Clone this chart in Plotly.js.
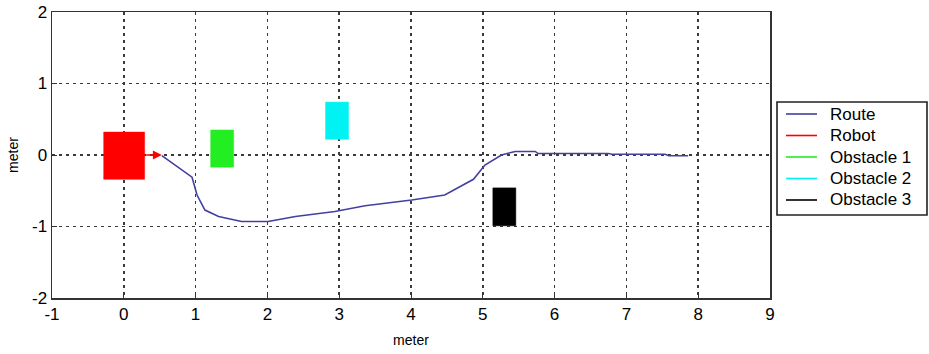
<!DOCTYPE html>
<html>
<head>
<meta charset="utf-8">
<script src="https://cdn.plot.ly/plotly-3.0.1.min.js"></script>
<style>
  html, body { margin: 0; padding: 0; background: #fff; }
  #chart { width: 929px; height: 354px; }
</style>
</head>
<body>
<div id="chart"></div>
<script>
// Planned route of the robot (meters)
const routeX = [0.53, 0.95, 1.02, 1.13, 1.32, 1.64, 2.01, 2.2, 2.39, 2.94, 3.36, 4.01, 4.47, 4.87, 5.03, 5.26, 5.45, 5.73, 5.77, 6.75, 6.8, 7.54, 7.59, 7.86];
const routeY = [-0.01, -0.31, -0.56, -0.77, -0.86, -0.93, -0.93, -0.89, -0.86, -0.79, -0.71, -0.63, -0.56, -0.34, -0.14, 0.0, 0.05, 0.05, 0.02, 0.02, 0.01, 0.01, -0.01, -0.01];

// Robot footprint and heading
const robotX = [-0.28, 0.29];
const robotY = [-0.34, 0.32];
const headingX = [0.29, 0.53];
const headingY = [0, 0];

// Obstacle extents [min, max]
const obstacle1X = [1.21, 1.53];
const obstacle1Y = [-0.17, 0.35];
const obstacle2X = [2.81, 3.13];
const obstacle2Y = [0.22, 0.74];
const obstacle3X = [5.14, 5.46];
const obstacle3Y = [-0.99, -0.46];

const seriesNames = ['Route', 'Robot', 'Obstacle 1', 'Obstacle 2', 'Obstacle 3'];
const xTicks = [-1, 0, 1, 2, 3, 4, 5, 6, 7, 8, 9];
const yTicks = [-2, -1, 0, 1, 2];

const FONT = '"Liberation Sans", Arial, Helvetica, sans-serif';
const colors = ['#43409f', '#ff0000', '#22ee22', '#00f2f2', '#000000'];

const W = 929, H = 354;
const M = {l: 52, r: 159, t: 12, b: 56};
const plotW = W - M.l - M.r, plotH = H - M.t - M.b;
// pixel position -> paper coordinate
const px = v => (v - M.l) / plotW;
const py = v => (H - M.b - v) / plotH;

function box(xs, ys) {
  return {
    x: [xs[0], xs[1], xs[1], xs[0], xs[0]],
    y: [ys[0], ys[0], ys[1], ys[1], ys[0]]
  };
}

const filled = [
  [robotX, robotY, colors[1]],
  [obstacle1X, obstacle1Y, colors[2]],
  [obstacle2X, obstacle2Y, colors[3]],
  [obstacle3X, obstacle3Y, colors[4]]
].map(([xs, ys, c]) => {
  const b = box(xs, ys);
  return {
    type: 'scatter', mode: 'lines', x: b.x, y: b.y,
    fill: 'toself', fillcolor: c, line: {color: c, width: 0.5},
    showlegend: false, hoverinfo: 'skip'
  };
});

const route = {
  type: 'scatter', mode: 'lines', x: routeX, y: routeY,
  line: {color: colors[0], width: 1.6}, name: seriesNames[0], showlegend: false
};

// Boxed legend at the right of the axes
const legendTop = 102, legendBottom = 215, legendLeft = 777, legendRight = 927;
const rowY0 = 114, rowStep = 21.5;
const shapes = [{
  type: 'rect', xref: 'paper', yref: 'paper',
  x0: px(legendLeft), x1: px(legendRight), y0: py(legendBottom), y1: py(legendTop),
  fillcolor: '#fff', line: {color: '#222', width: 1.6}, layer: 'above'
}];
const annotations = [];
seriesNames.forEach((n, i) => {
  const yy = py(rowY0 + i * rowStep);
  shapes.push({
    type: 'line', xref: 'paper', yref: 'paper',
    x0: px(786), x1: px(817), y0: yy, y1: yy,
    line: {color: colors[i], width: 1.6}, layer: 'above'
  });
  annotations.push({
    xref: 'paper', yref: 'paper', x: px(828), y: yy,
    xanchor: 'left', yanchor: 'middle', showarrow: false, text: n,
    font: {family: FONT, size: 17, color: '#000'}
  });
});

// Robot heading arrow
annotations.push({
  x: headingX[1], y: headingY[1], ax: headingX[0], ay: headingY[0],
  xref: 'x', yref: 'y', axref: 'x', ayref: 'y',
  showarrow: true, arrowhead: 2, arrowsize: 1.2, arrowwidth: 1.5,
  arrowcolor: colors[1], text: ''
});

const axisCommon = {
  showgrid: true, gridcolor: '#3a3a3a', gridwidth: 1.5, griddash: '3px,4px',
  zeroline: false, showline: true, linecolor: '#333', linewidth: 1.5, mirror: true,
  ticks: 'inside', ticklen: 5, tickcolor: '#333', tickwidth: 1,
  tickfont: {family: FONT, size: 17, color: '#000'},
  tickmode: 'array', fixedrange: true
};

const layout = {
  width: W, height: H,
  margin: M,
  paper_bgcolor: '#fff', plot_bgcolor: '#fff',
  font: {family: FONT, color: '#000'},
  showlegend: false,
  xaxis: Object.assign({}, axisCommon, {
    range: [-1, 9], tickvals: xTicks, ticktext: xTicks.map(String),
    title: {text: 'meter', font: {family: FONT, size: 14}, standoff: 12}
  }),
  yaxis: Object.assign({}, axisCommon, {
    range: [-2, 2], tickvals: yTicks, ticktext: yTicks.map(String),
    title: {text: 'meter', font: {family: FONT, size: 14}, standoff: 10}
  }),
  shapes: shapes,
  annotations: annotations
};

Plotly.newPlot('chart', [...filled, route], layout, {staticPlot: true, displayModeBar: false});
</script>
</body>
</html>
